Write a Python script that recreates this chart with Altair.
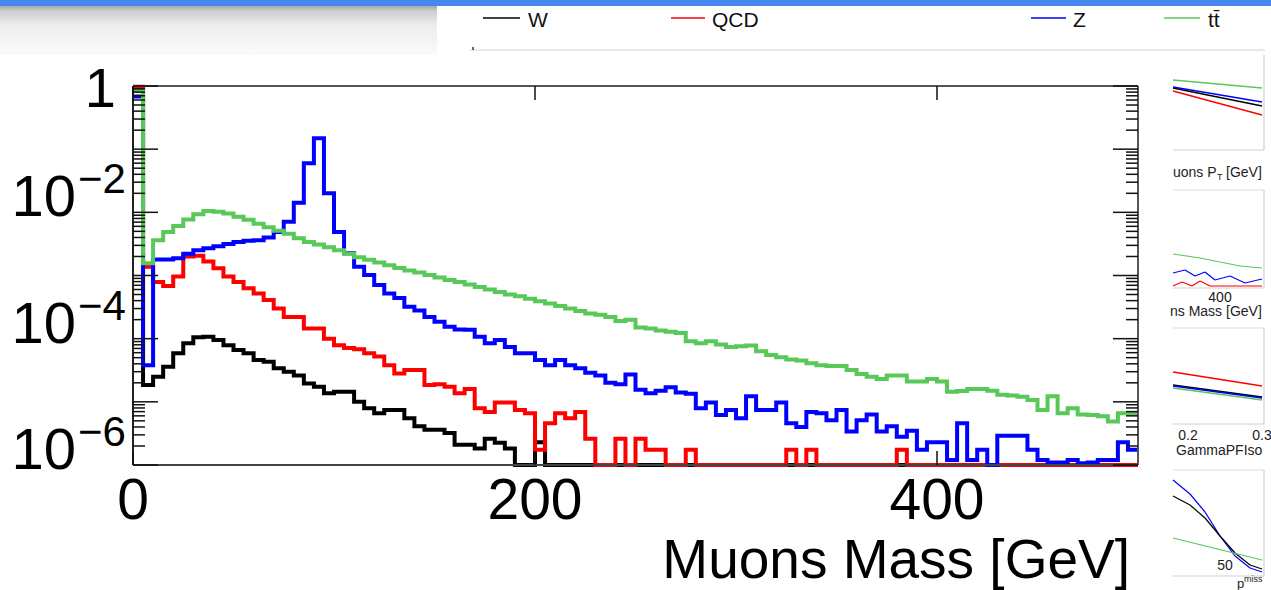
import altair as alt
import pandas as pd

# ---------------- layout (canvas pixels) ----------------
CANVAS_W, CANVAS_H = 1271, 590
LEFT, TOP, RIGHT_X, BOTTOM_Y = 133, 86, 1138, 465
PW, PH = RIGHT_X - LEFT, BOTTOM_Y - TOP
FONT = "Liberation Sans"

# ---------------- data: normalised entries per 5 GeV bin (0-500 GeV) ----------------
bin_width = 5
n_bins = 100

w_vals = [0.93, 1.85e-5, 2.5e-5, 3.6e-5, 5.9e-5, 8.5e-5, 1.05e-4, 1.07e-4, 9.5e-5, 7.9e-5,
          6.6e-5, 5.9e-5, 4.6e-5, 4.3e-5, 3.4e-5, 3.0e-5, 2.6e-5, 1.95e-5, 1.74e-5, 1.37e-5,
          1.45e-5, 1.45e-5, 1.0e-5, 7.9e-6, 6.6e-6, 7.4e-6, 7.4e-6, 5.5e-6, 4.1e-6, 3.6e-6,
          3.6e-6, 3.2e-6, 2.1e-6, 2.1e-6, 1.82e-6, 2.6e-6, 2.25e-6, 1.82e-6, 0, 0,
          2.3e-6] + [0] * 59

qcd_vals = [0.97, 1.38e-3, 7.9e-4, 6.8e-4, 9.6e-4, 2.0e-3, 2.05e-3, 1.66e-3, 1.3e-3, 9.6e-4,
            7.9e-4, 6.3e-4, 5.2e-4, 4.1e-4, 3.0e-4, 2.2e-4, 2.2e-4, 1.45e-4, 1.45e-4, 1.0e-4,
            7.9e-5, 7.1e-5, 6.8e-5, 5.9e-5, 5.2e-5, 3.8e-5, 2.8e-5, 3.2e-5, 3.2e-5, 1.85e-5,
            1.9e-5, 1.74e-5, 1.37e-5, 1.6e-5, 7.9e-6, 6.9e-6, 9.8e-6, 9.8e-6, 7.4e-6, 6.6e-6,
            1.74e-6, 4.6e-6, 6.6e-6, 5.5e-6, 6.9e-6, 2.6e-6, 0, 0, 2.6e-6, 0,
            2.6e-6, 1.74e-6, 1.74e-6, 0, 0, 1.74e-6, 0, 0, 0, 0,
            0, 0, 0, 0, 0, 1.74e-6, 0, 1.74e-6, 0, 0,
            0, 0, 0, 0, 0, 0, 1.74e-6] + [0] * 23

z_vals = [0.68, 3.8e-5, 1.8e-3, 1.8e-3, 1.87e-3, 2.2e-3, 2.5e-3, 2.7e-3, 2.9e-3, 3.16e-3,
          3.4e-3, 3.55e-3, 3.6e-3, 4.0e-3, 4.9e-3, 7.1e-3, 1.42e-2, 6.0e-2, 0.149, 2.0e-2,
          4.9e-3, 2.25e-3, 1.38e-3, 1.02e-3, 7.1e-4, 5.2e-4, 4.4e-4, 3.2e-4, 2.8e-4, 2.2e-4,
          1.86e-4, 1.55e-4, 1.4e-4, 1.38e-4, 1.07e-4, 8.5e-5, 9.5e-5, 7.4e-5, 5.9e-5, 5.9e-5,
          4.6e-5, 3.8e-5, 4.6e-5, 3.8e-5, 3.4e-5, 2.9e-5, 2.6e-5, 2.0e-5, 1.9e-5, 2.7e-5,
          1.55e-5, 1.37e-5, 1.5e-5, 1.7e-5, 1.4e-5, 1.34e-5, 7.9e-6, 9.8e-6, 6.2e-6, 7.4e-6,
          5.5e-6, 1.23e-5, 7.4e-6, 7.4e-6, 9.8e-6, 4.6e-6, 4.0e-6, 6.9e-6, 6.6e-6, 5.1e-6,
          7.4e-6, 3.4e-6, 5.1e-6, 6.3e-6, 3.4e-6, 4.1e-6, 2.8e-6, 3.5e-6, 1.74e-6, 2.3e-6,
          2.3e-6, 1.2e-6, 4.6e-6, 1.2e-6, 1.74e-6, 0, 2.9e-6, 2.9e-6, 2.9e-6, 1.74e-6,
          1.2e-6, 1.1e-6, 1.1e-6, 1.2e-6, 1.07e-6, 1.1e-6, 1.2e-6, 1.2e-6, 2.3e-6, 1.74e-6]

tt_vals = [0.83, 1.56e-3, 3.6e-3, 4.9e-3, 6.1e-3, 7.7e-3, 9.3e-3, 1.05e-2, 1.02e-2, 9.6e-3,
           8.5e-3, 7.6e-3, 6.6e-3, 5.8e-3, 5.1e-3, 4.6e-3, 3.9e-3, 3.4e-3, 3.1e-3, 2.8e-3,
           2.5e-3, 2.2e-3, 1.95e-3, 1.77e-3, 1.6e-3, 1.45e-3, 1.32e-3, 1.2e-3, 1.12e-3, 1.02e-3,
           9.3e-4, 8.5e-4, 7.9e-4, 7.2e-4, 6.6e-4, 6.0e-4, 5.5e-4, 5.0e-4, 4.7e-4, 4.3e-4,
           3.9e-4, 3.6e-4, 3.3e-4, 3.0e-4, 2.75e-4, 2.5e-4, 2.4e-4, 2.2e-4, 1.9e-4, 2.0e-4,
           1.5e-4, 1.45e-4, 1.35e-4, 1.29e-4, 1.23e-4, 9.1e-5, 8.5e-5, 9.1e-5, 8.1e-5, 7.4e-5,
           7.6e-5, 7.8e-5, 6.3e-5, 5.5e-5, 5.1e-5, 4.7e-5, 4.5e-5, 4.1e-5, 3.8e-5, 3.7e-5,
           3.7e-5, 3.2e-5, 2.75e-5, 2.5e-5, 2.3e-5, 2.6e-5, 2.6e-5, 2.1e-5, 2.1e-5, 2.3e-5,
           2.1e-5, 1.45e-5, 1.48e-5, 1.6e-5, 1.6e-5, 1.5e-5, 1.3e-5, 1.26e-5, 1.2e-5, 1.07e-5,
           7.4e-6, 1.23e-5, 6.6e-6, 7.9e-6, 6.3e-6, 6.2e-6, 5.9e-6, 4.9e-6, 6.6e-6, 6.6e-6]

series_names = ["W", "QCD", "Z", "tt\u0304"]
series_values = [w_vals, qcd_vals, z_vals, tt_vals]
series_colors = ["#000000", "#ff0000", "#0000ff", "#58c858"]

y_label_values = [1e-2, 1e-4, 1e-6]
y_label_sups = ["\u22122", "\u22124", "\u22126"]
x_label_values = [0, 200, 400]
x_title = "Muons Mass [GeV]"

Y_FLOOR = 1e-6

# ---------------- scales ----------------
xscale = alt.Scale(domain=[0, 500], nice=False, zero=False)
yscale = alt.Scale(type="log", domain=[1e-6, 1], clamp=True, nice=False)

ONE = pd.DataFrame({"k": [0]})


def hist_df(vals):
    edges = [i * bin_width for i in range(n_bins)] + [n_bins * bin_width]
    v = list(vals) + [vals[-1]]
    return pd.DataFrame({"mass": edges, "val": [max(a, Y_FLOOR) for a in v]})


layers = []

# ---------------- slide decoration (canvas coords) ----------------
def px(xc):
    return alt.value(xc - LEFT)


def py(yc):
    return alt.value(yc - TOP)


def d_rect(x1, y1, x2, y2, fill):
    return alt.Chart(ONE).mark_rect(fill=fill).encode(x=px(x1), x2=px(x2), y=py(y1), y2=py(y2))


def d_rule(x1, y1, x2, y2, color, width=1.5):
    return alt.Chart(ONE).mark_rule(color=color, strokeWidth=width).encode(
        x=px(x1), x2=px(x2), y=py(y1), y2=py(y2))


def d_poly(pts, color, width=1.5):
    return [d_rule(pts[i][0], pts[i][1], pts[i + 1][0], pts[i + 1][1], color, width)
            for i in range(len(pts) - 1)]


def d_text(xc, yc, text, size, align="left", color="#222222"):
    return alt.Chart(ONE).mark_text(text=text, align=align, baseline="alphabetic",
                                    fontSize=size, font=FONT, color=color).encode(x=px(xc), y=py(yc))


grad = alt.Gradient(gradient="linear", x1=0, x2=0, y1=0, y2=1,
                    stops=[alt.GradientStop(color="#a8a8a8", offset=0),
                           alt.GradientStop(color="#cdcdcd", offset=0.1),
                           alt.GradientStop(color="#ededed", offset=0.4),
                           alt.GradientStop(color="#fafafa", offset=1)])
layers.append(d_rect(0, 6, 437, 55, grad))
layers.append(d_rect(0, 0, CANVAS_W, 6, "#4587ef"))

# legend of the slide
leg_x = [(483, 520, 528), (671, 705, 712), (1031, 1066, 1073), (1164, 1200, 1208)]
for (a, b, t), name, col in zip(leg_x, series_names, series_colors):
    layers.append(d_rule(a, 18, b, 18, col, 1.5))
    layers.append(d_text(t, 27, name, 21, color="#111111"))

# faint frame of the plot hidden under the legend
layers.append(d_rule(470, 50, 1265, 50, "#d2d2d2", 1))
layers.append(d_rule(473, 47, 473, 50, "#333333", 1.5))

# thumbnails on the right
thumb_frames = [(55, 150), (190, 288), (328, 424), (470, 576)]
for t0, t1 in thumb_frames:
    layers.append(d_rule(1264, t0, 1264, t1, "#cfcfcf", 1.2))
    layers.append(d_rule(1173, t1, 1264, t1, "#cfcfcf", 1.0))
    if t0 > 60:
        layers.append(d_rule(1173, t0, 1264, t0, "#dddddd", 1.0))

# panel 1
layers.append(d_rule(1173, 80, 1262, 88, "#58c858"))
layers.append(d_rule(1173, 88, 1262, 106, "#000000"))
layers.append(d_rule(1173, 87, 1262, 102, "#0000ff"))
layers.append(d_rule(1173, 91, 1262, 115, "#ff0000"))
# panel 2
layers += d_poly([(1173, 254), (1200, 258), (1220, 262), (1240, 266), (1262, 268)], "#58c858", 1.2)
layers += d_poly([(1173, 273), (1185, 270), (1195, 276), (1205, 272), (1215, 280),
                  (1230, 276), (1245, 283), (1262, 279)], "#0000ff", 1.2)
layers += d_poly([(1173, 286), (1182, 282), (1192, 286), (1200, 281), (1210, 286),
                  (1262, 286)], "#ff0000", 1.2)
# panel 3
layers.append(d_rule(1173, 372, 1262, 386, "#ff0000"))
layers.append(d_rule(1173, 385, 1262, 397, "#000000"))
layers.append(d_rule(1173, 386, 1262, 398, "#0000ff"))
layers.append(d_rule(1173, 388, 1262, 400, "#58c858"))
# panel 4
layers += d_poly([(1173, 480), (1190, 494), (1205, 512), (1220, 536), (1235, 556),
                  (1250, 568), (1262, 572)], "#0000ff", 1.2)
layers += d_poly([(1173, 496), (1190, 505), (1205, 518), (1220, 536), (1235, 553),
                  (1250, 565), (1262, 569)], "#000000", 1.2)
layers.append(d_rule(1173, 538, 1262, 560, "#58c858", 1.2))

layers.append(d_text(1173, 177, "uons P", 14))
layers.append(d_text(1217, 180, "T", 9))
layers.append(d_text(1226, 177, "[GeV]", 14))
layers.append(d_text(1220, 302, "400", 14, align="center"))
layers.append(d_text(1170, 316, "ns Mass [GeV]", 14))
layers.append(d_text(1188, 440, "0.2", 14, align="center"))
layers.append(d_text(1262, 440, "0.3", 14, align="center"))
layers.append(d_text(1176, 455, "GammaPFIso", 14))
layers.append(d_text(1225, 570, "50", 14, align="center"))
layers.append(d_text(1237, 588, "p", 13))
layers.append(d_text(1244, 582, "miss", 9))

# ---------------- histograms ----------------
for vals, col in zip(series_values, series_colors):
    layers.append(
        alt.Chart(hist_df(vals)).mark_line(interpolate="step-after", color=col, strokeWidth=4,
                                           strokeJoin="miter", strokeCap="butt").encode(
            x=alt.X("mass:Q", scale=xscale, axis=None),
            y=alt.Y("val:Q", scale=yscale, axis=None),
        )
    )

# ---------------- frame ----------------
layers.append(alt.Chart(ONE).mark_rule(color="#555555", strokeWidth=2).encode(
    x=alt.value(0), x2=alt.value(PW), y=alt.value(0)))
layers.append(alt.Chart(ONE).mark_rule(color="#444444", strokeWidth=2).encode(
    x=alt.value(0), x2=alt.value(PW), y=alt.value(PH)))
layers.append(alt.Chart(ONE).mark_rule(color="#222222", strokeWidth=2).encode(
    x=alt.value(0), y=alt.value(0), y2=alt.value(PH)))
layers.append(alt.Chart(ONE).mark_rule(color="#555555", strokeWidth=2).encode(
    x=alt.value(PW), y=alt.value(0), y2=alt.value(PH)))

# ---------------- y ticks (log, inward, both sides) ----------------
major = pd.DataFrame({"v": [10.0 ** e for e in range(-6, 1)]})
minor = pd.DataFrame({"v": [k * 10.0 ** e for e in range(-6, 0) for k in range(2, 10)]})
for df, ln in ((major, 25), (minor, 12)):
    layers.append(alt.Chart(df).mark_rule(color="#111111", strokeWidth=1.5).encode(
        y=alt.Y("v:Q", scale=yscale, axis=None), x=alt.value(0), x2=alt.value(ln)))
    layers.append(alt.Chart(df).mark_rule(color="#111111", strokeWidth=1.5).encode(
        y=alt.Y("v:Q", scale=yscale, axis=None), x=alt.value(PW - ln), x2=alt.value(PW)))

# ---------------- x ticks (inward, top and bottom) ----------------
xt = pd.DataFrame({"m": x_label_values})
layers.append(alt.Chart(xt).mark_rule(color="#111111", strokeWidth=1.5).encode(
    x=alt.X("m:Q", scale=xscale, axis=None), y=alt.value(0), y2=alt.value(14)))
layers.append(alt.Chart(xt).mark_rule(color="#111111", strokeWidth=1.5).encode(
    x=alt.X("m:Q", scale=xscale, axis=None), y=alt.value(PH - 14), y2=alt.value(PH)))

# ---------------- axis labels ----------------
ylab = pd.DataFrame({"v": y_label_values, "base": ["10"] * len(y_label_values), "sup": y_label_sups})
layers.append(alt.Chart(ylab).mark_text(align="right", baseline="alphabetic", fontSize=58,
                                        font=FONT, color="black", dy=4).encode(
    y=alt.Y("v:Q", scale=yscale, axis=None), x=alt.value(76 - LEFT), text="base:N"))
layers.append(alt.Chart(ylab).mark_text(align="left", baseline="alphabetic", fontSize=42,
                                        font=FONT, color="black", dy=-19).encode(
    y=alt.Y("v:Q", scale=yscale, axis=None), x=alt.value(78 - LEFT), text="sup:N"))
one_lab = pd.DataFrame({"v": [1.0], "t": ["1"]})
layers.append(alt.Chart(one_lab).mark_text(align="right", baseline="alphabetic", fontSize=56,
                                           font=FONT, color="black", dy=21).encode(
    y=alt.Y("v:Q", scale=yscale, axis=None), x=alt.value(116 - LEFT), text="t:N"))

xlab = pd.DataFrame({"m": x_label_values, "t": [str(v) for v in x_label_values]})
layers.append(alt.Chart(xlab).mark_text(align="center", baseline="alphabetic", fontSize=57,
                                        font=FONT, color="black").encode(
    x=alt.X("m:Q", scale=xscale, axis=None), y=alt.value(519 - TOP), text="t:N"))
layers.append(d_text(1130, 578, x_title, 55, align="right", color="black"))

chart = alt.layer(*layers).properties(
    width=PW, height=PH,
    autosize=alt.AutoSizeParams(type="none"),
    padding={"left": LEFT, "top": TOP, "right": CANVAS_W - RIGHT_X, "bottom": CANVAS_H - BOTTOM_Y},
    background="white",
).configure_view(stroke=None)

chart.save("out.html", embed_options={"renderer": "svg", "actions": False})
